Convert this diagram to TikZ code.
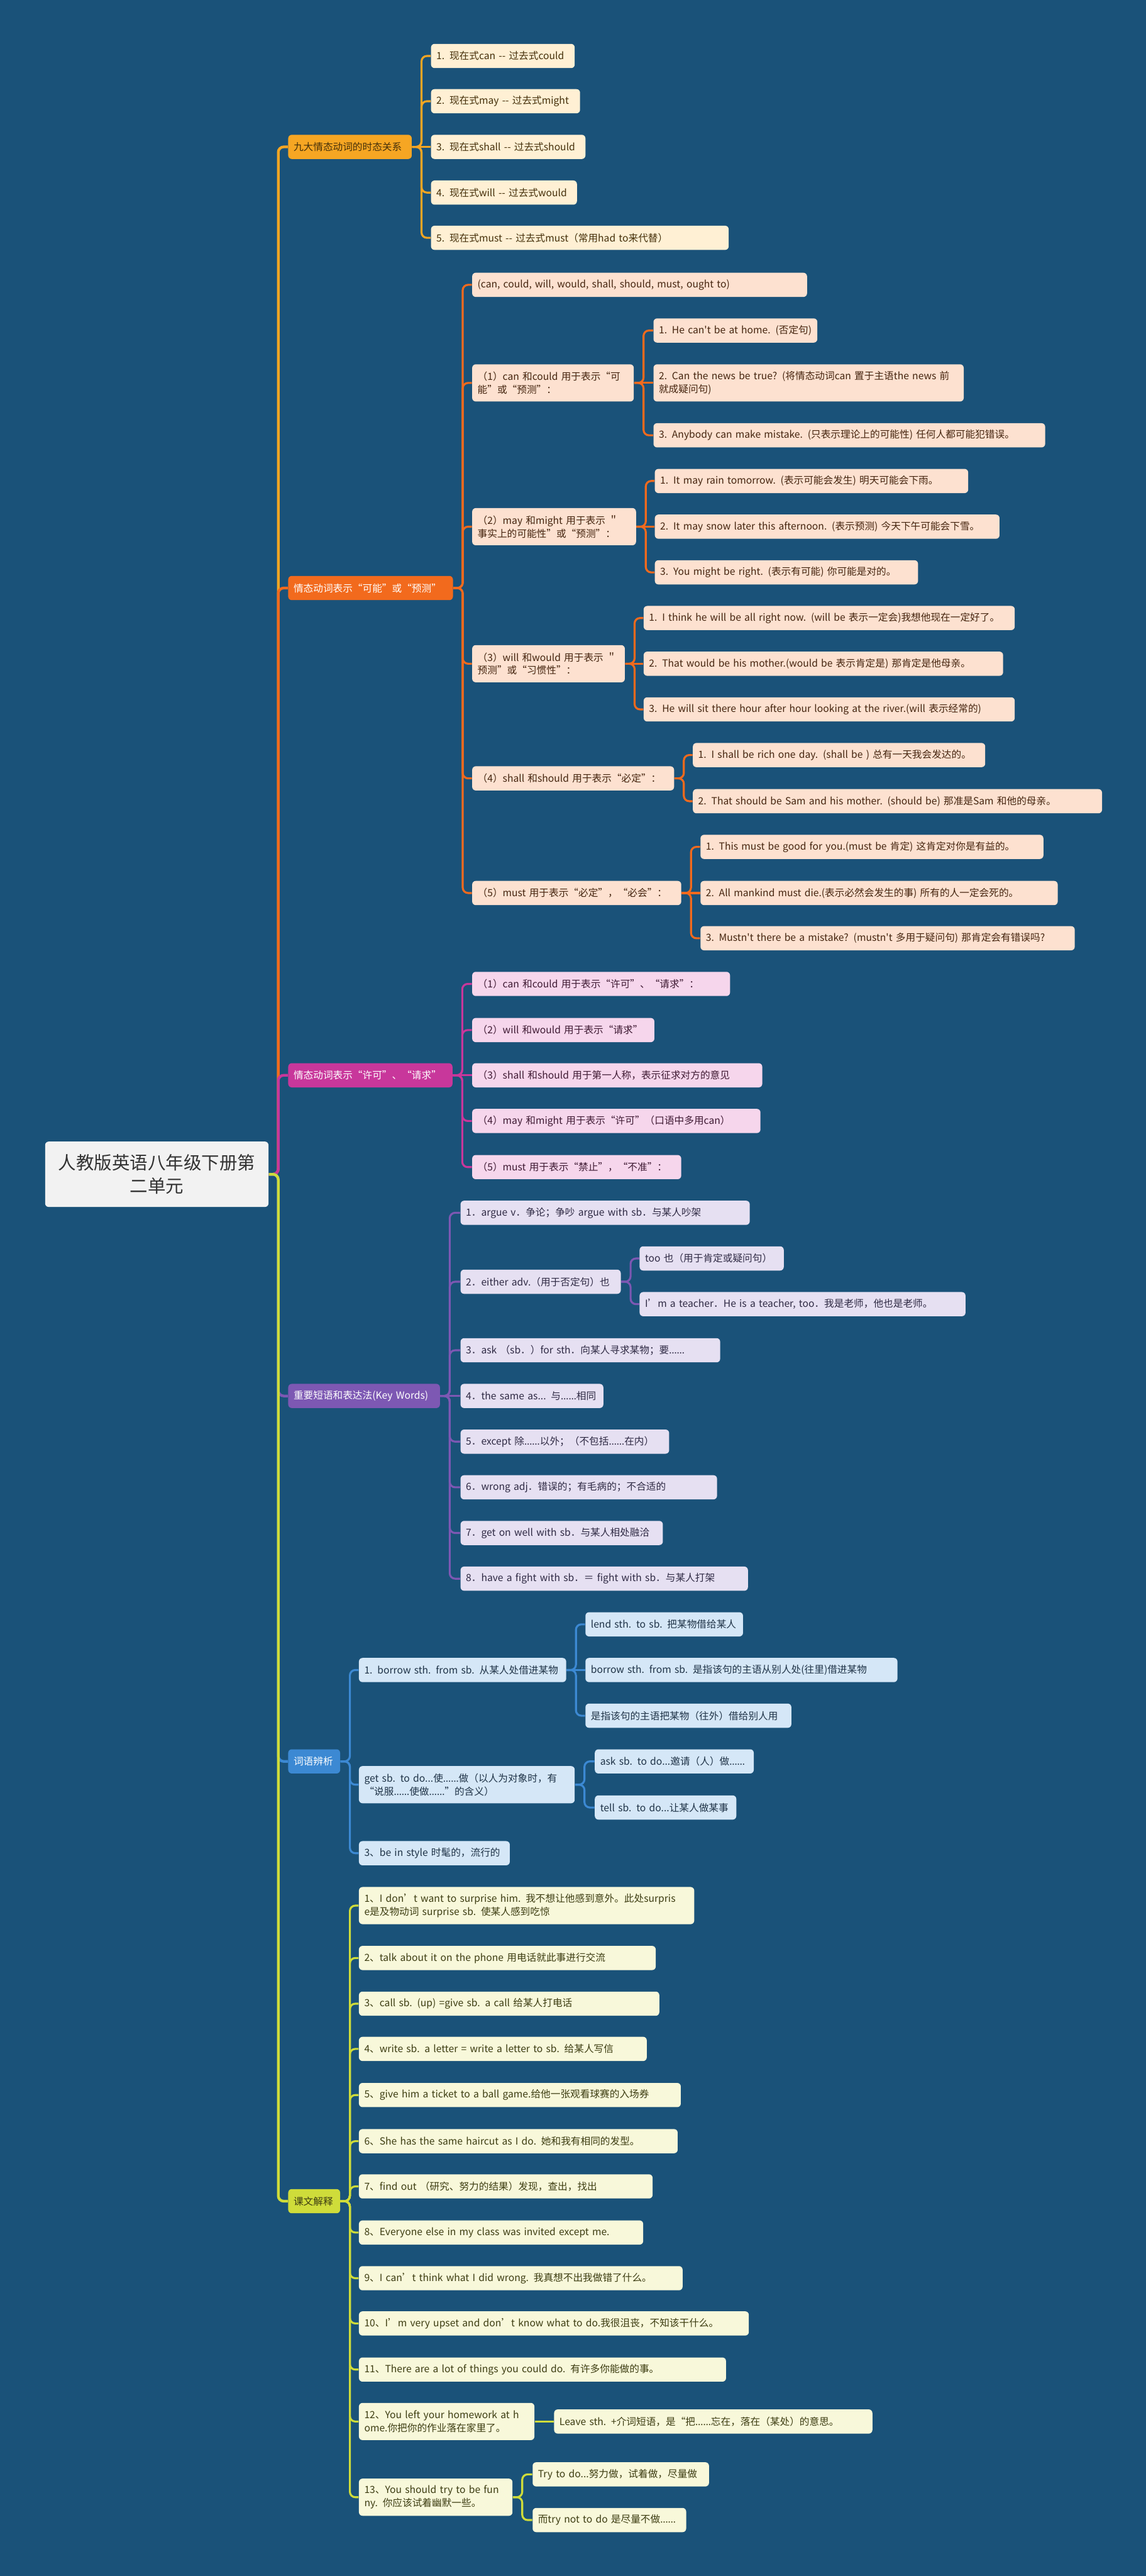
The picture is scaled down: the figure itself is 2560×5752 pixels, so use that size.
\documentclass[tikz,border=0pt]{standalone}
\usepackage{fontspec}
\setmainfont{Noto Sans CJK SC}[Ligatures=TeXOff]
\newfontfamily\latf{Noto Sans}[Ligatures=TeXOff]
\newcommand\el{{\latf ……}}
\definecolor{bgc}{HTML}{1A5279}
\definecolor{c1}{HTML}{F6A623}\definecolor{f1}{HTML}{FFF0D4}\definecolor{t1}{HTML}{45300A}
\definecolor{c2}{HTML}{F26A1D}\definecolor{f2}{HTML}{FDE1D0}\definecolor{t2}{HTML}{45250F}
\definecolor{c3}{HTML}{C8379B}\definecolor{f3}{HTML}{F6D6EC}\definecolor{t3}{HTML}{3F1A33}
\definecolor{c4}{HTML}{7D58B3}\definecolor{f4}{HTML}{E6E0F2}\definecolor{t4}{HTML}{2F2A44}
\definecolor{c5}{HTML}{3C89D3}\definecolor{f5}{HTML}{D5E7F7}\definecolor{t5}{HTML}{1F3347}
\definecolor{c6}{HTML}{CFDC3A}\definecolor{f6}{HTML}{F8F8DA}\definecolor{t6}{HTML}{3D3D12}
\definecolor{rootf}{HTML}{F2F2F2}\definecolor{roott}{HTML}{333333}
\pgfdeclarelayer{back}\pgfdeclarelayer{lines}\pgfsetlayers{back,lines,main}
\newcommand\nd[6]{\node[#1,bw=#5,anchor=west] (#2) at (#3,#4) {\mbox{#6}};}
\newcommand\ndt[6]{\node[#1,two,bw=#5,anchor=west] (#2) at (#3,#4) {#6};}
\newcommand\cn[3]{\draw[#1] (#2.east) -- ++(21,0) |- (#3.west);}
\newcommand\cs[3]{\draw[#1] (#2.east) -- (#3.west);}
\tikzset{
  bw/.code={\pgfmathsetlengthmacro\mytw{(#1-24)*0.25}\edef\mytmp{\noexpand\tikzset{text width=\mytw}}\mytmp},
  box/.style={rounded corners=2pt, inner xsep=3pt, inner ysep=0pt, minimum height=13.5pt, align=left, font=\fontsize{5.5pt}{7.25pt}\selectfont},
  two/.style={minimum height=20.75pt},
  c1s/.style={box, fill=f1, text=t1}, c2s/.style={box, fill=f2, text=t2},
  c3s/.style={box, fill=f3, text=t3}, c4s/.style={box, fill=f4, text=t4},
  c5s/.style={box, fill=f5, text=t5}, c6s/.style={box, fill=f6, text=t6},
  ln/.style={line width=1.1pt, rounded corners=3pt},
  l1/.style={ln, draw=c1}, l2/.style={ln, draw=c2}, l3/.style={ln, draw=c3},
  l4/.style={ln, draw=c4}, l5/.style={ln, draw=c5}, l6/.style={ln, draw=c6},
}
\begin{document}
\begin{tikzpicture}[x=0.25pt,y=-0.25pt]
\begin{pgfonlayer}{back}
\fill[bgc] (0,0) rectangle (2560,5752);
\end{pgfonlayer}
\useasboundingbox (0,0) rectangle (2560,5752);
% root
\node[box, fill=rootf, text=roott, bw=499, align=center, minimum height=36.5pt, font=\fontsize{10pt}{13pt}\selectfont, anchor=west] (root) at (100,2622) {人教版英语八年级下册第\\二单元};
% branches
\nd{box,fill=c1,text=t1}{b1}{643}{328}{276}{九大情态动词的时态关系}
\nd{box,fill=c2,text=white}{b2}{643}{1313}{368}{情态动词表示“可能”或“预测”}
\nd{box,fill=c3,text=white}{b3}{643}{2401}{367}{情态动词表示“许可”、“请求”}
\nd{box,fill=c4,text=white}{b4}{643}{3117}{339}{重要短语和表达法(Key Words)}
\nd{box,fill=c5,text=white}{b5}{643}{3933}{116}{词语辨析}
\nd{box,fill=c6,text=t6}{b6}{643}{4915}{116}{课文解释}
% branch 1
\nd{c1s}{a11}{962}{125}{321}{1. 现在式can -- 过去式could}
\nd{c1s}{a12}{962}{226}{333}{2. 现在式may -- 过去式might}
\nd{c1s}{a13}{962}{328}{345}{3. 现在式shall -- 过去式should}
\nd{c1s}{a14}{962}{430}{326}{4. 现在式will -- 过去式would}
\nd{c1s}{a15}{962}{531}{665}{5. 现在式must -- 过去式must（常用had to来代替）}
% branch 2
\nd{c2s}{b20}{1054}{636}{748}{(can, could, will, would, shall, should, must, ought to)}
\ndt{c2s}{b21}{1054}{855}{361}{（1）can 和could 用于表示“可\\能”或“预测”：}
\nd{c2s}{b211}{1459}{738}{366}{1. He can't be at home. (否定句)}
\ndt{c2s}{b212}{1459}{855}{693}{2. Can the news be true? (将情态动词can 置于主语the news 前\\就成疑问句)}
\nd{c2s}{b213}{1459}{972}{875}{3. Anybody can make mistake. (只表示理论上的可能性) 任何人都可能犯错误。}
\ndt{c2s}{b22}{1054}{1176}{366}{（2）may 和might 用于表示 ＂\\事实上的可能性”或“预测”：}
\nd{c2s}{b221}{1462}{1074}{700}{1. It may rain tomorrow. (表示可能会发生) 明天可能会下雨。}
\nd{c2s}{b222}{1462}{1176}{770}{2. It may snow later this afternoon. (表示预测) 今天下午可能会下雪。}
\nd{c2s}{b223}{1462}{1278}{588}{3. You might be right. (表示有可能) 你可能是对的。}
\ndt{c2s}{b23}{1054}{1482}{341}{（3）will 和would 用于表示 ＂\\预测”或“习惯性”：}
\nd{c2s}{b231}{1437}{1380}{829}{1. I think he will be all right now. (will be 表示一定会)我想他现在一定好了。}
\nd{c2s}{b232}{1437}{1482}{803}{2. That would be his mother.(would be 表示肯定是) 那肯定是他母亲。}
\nd{c2s}{b233}{1437}{1584}{829}{3. He will sit there hour after hour looking at the river.(will 表示经常的)}
\nd{c2s}{b24}{1054}{1738}{451}{（4）shall 和should 用于表示“必定”：}
\nd{c2s}{b241}{1547}{1686}{653}{1. I shall be rich one day. (shall be ) 总有一天我会发达的。}
\nd{c2s}{b242}{1547}{1789}{914}{2. That should be Sam and his mother. (should be) 那准是Sam 和他的母亲。}
\nd{c2s}{b25}{1054}{1994}{467}{（5）must 用于表示“必定”，“必会”：}
\nd{c2s}{b251}{1564}{1891}{766}{1. This must be good for you.(must be 肯定) 这肯定对你是有益的。}
\nd{c2s}{b252}{1564}{1994}{798}{2. All mankind must die.(表示必然会发生的事) 所有的人一定会死的。}
\nd{c2s}{b253}{1564}{2095}{836}{3. Mustn't there be a mistake? (mustn't 多用于疑问句) 那肯定会有错误吗?}
% branch 3
\nd{c3s}{c31}{1054}{2197}{576}{（1）can 和could 用于表示“许可”、“请求”：}
\nd{c3s}{c32}{1054}{2300}{407}{（2）will 和would 用于表示“请求”}
\nd{c3s}{c33}{1054}{2401}{648}{（3）shall 和should 用于第一人称，表示征求对方的意见}
\nd{c3s}{c34}{1054}{2503}{644}{（4）may 和might 用于表示“许可”（口语中多用can）}
\nd{c3s}{c35}{1054}{2606}{467}{（5）must 用于表示“禁止”，“不准”：}
% branch 4
\nd{c4s}{d1}{1028}{2708}{646}{1．argue v．争论；争吵 argue with sb．与某人吵架}
\nd{c4s}{d2}{1028}{2862}{358}{2．either adv.（用于否定句）也}
\nd{c4s}{d21}{1428}{2810}{322}{too 也（用于肯定或疑问句）}
\nd{c4s}{d22}{1428}{2912}{728}{I’m a teacher．He is a teacher, too．我是老师，他也是老师。}
\nd{c4s}{d3}{1028}{3015}{580}{3．ask （sb．）for sth．向某人寻求某物；要\el}
\nd{c4s}{d4}{1028}{3117}{319}{4．the same as... 与\el 相同}
\nd{c4s}{d5}{1028}{3219}{466}{5．except 除\el 以外；（不包括\el 在内）}
\nd{c4s}{d6}{1028}{3321}{573}{6．wrong adj．错误的；有毛病的；不合适的}
\nd{c4s}{d7}{1028}{3423}{452}{7．get on well with sb．与某人相处融洽}
\nd{c4s}{d8}{1028}{3525}{642}{8．have a fight with sb．＝ fight with sb．与某人打架}
% branch 5
\nd{c5s}{e1}{801}{3729}{463}{1. borrow sth. from sb. 从某人处借进某物}
\nd{c5s}{e11}{1307}{3627}{352}{lend sth. to sb. 把某物借给某人}
\nd{c5s}{e12}{1307}{3729}{697}{borrow sth. from sb. 是指该句的主语从别人处(往里)借进某物}
\nd{c5s}{e13}{1307}{3831}{460}{是指该句的主语把某物（往外）借给别人用}
\ndt{c5s}{e2}{801}{3985}{482}{get sb. to do...使\el 做（以人为对象时，有\\“说服\el 使做\el ”的含义）}
\nd{c5s}{e21}{1328}{3933}{355}{ask sb. to do...邀请（人）做\el}
\nd{c5s}{e22}{1328}{4036}{316}{tell sb. to do...让某人做某事}
\nd{c5s}{e3}{801}{4138}{337}{3、be in style 时髦的，流行的}
% branch 6
\ndt{c6s}{g1}{801}{4255}{749}{1、I don’t want to surprise him. 我不想让他感到意外。此处surpris\\e是及物动词 surprise sb. 使某人感到吃惊}
\nd{c6s}{g2}{801}{4372}{663}{2、talk about it on the phone 用电话就此事进行交流}
\nd{c6s}{g3}{801}{4474}{671}{3、call sb. (up) =give sb. a call 给某人打电话}
\nd{c6s}{g4}{801}{4575}{643}{4、write sb. a letter = write a letter to sb. 给某人写信}
\nd{c6s}{g5}{801}{4678}{719}{5、give him a ticket to a ball game.给他一张观看球赛的入场券}
\nd{c6s}{g6}{801}{4781}{712}{6、She has the same haircut as I do. 她和我有相同的发型。}
\nd{c6s}{g7}{801}{4882}{656}{7、find out （研究、努力的结果）发现，查出，找出}
\nd{c6s}{g8}{801}{4985}{635}{8、Everyone else in my class was invited except me.}
\nd{c6s}{g9}{801}{5087}{723}{9、I can’t think what I did wrong. 我真想不出我做错了什么。}
\nd{c6s}{g10}{801}{5188}{871}{10、I’m very upset and don’t know what to do.我很沮丧，不知该干什么。}
\nd{c6s}{g11}{801}{5291}{820}{11、There are a lot of things you could do. 有许多你能做的事。}
\ndt{c6s}{g12}{801}{5407}{392}{12、You left your homework at h\\ome.你把你的作业落在家里了。}
\nd{c6s}{g121}{1237}{5407}{711}{Leave sth. +介词短语，是“把\el 忘在，落在（某处）的意思。}
\ndt{c6s}{g13}{801}{5576}{343}{13、You should try to be fun\\ny. 你应该试着幽默一些。}
\nd{c6s}{g131}{1189}{5525}{394}{Try to do...努力做，试着做，尽量做}
\nd{c6s}{g132}{1189}{5627}{343}{而try not to do 是尽量不做\el}
% connectors
\begin{pgfonlayer}{lines}
\cn{l1,line width=1.5pt}{root}{b1}
\cn{l2,line width=1.5pt}{root}{b2}
\cn{l3,line width=1.5pt}{root}{b3}
\cn{l4,line width=1.5pt}{root}{b4}
\cn{l5,line width=1.5pt}{root}{b5}
\cn{l6,line width=1.5pt}{root}{b6}
\foreach \c in {a11,a12,a14,a15} {\cn{l1}{b1}{\c}}
\cs{l1}{b1}{a13}
\foreach \c in {b20,b21,b22,b23,b24,b25} {\cn{l2}{b2}{\c}}
\foreach \c in {b211,b213} {\cn{l2}{b21}{\c}}
\cs{l2}{b21}{b212}
\foreach \c in {b221,b223} {\cn{l2}{b22}{\c}}
\cs{l2}{b22}{b222}
\foreach \c in {b231,b233} {\cn{l2}{b23}{\c}}
\cs{l2}{b23}{b232}
\foreach \c in {b241,b242} {\cn{l2}{b24}{\c}}
\foreach \c in {b251,b253} {\cn{l2}{b25}{\c}}
\cs{l2}{b25}{b252}
\foreach \c in {c31,c32,c34,c35} {\cn{l3}{b3}{\c}}
\cs{l3}{b3}{c33}
\foreach \c in {d1,d2,d3,d5,d6,d7,d8} {\cn{l4}{b4}{\c}}
\cs{l4}{b4}{d4}
\foreach \c in {d21,d22} {\cn{l4}{d2}{\c}}
\foreach \c in {e1,e2,e3} {\cn{l5}{b5}{\c}}
\foreach \c in {e11,e13} {\cn{l5}{e1}{\c}}
\cs{l5}{e1}{e12}
\foreach \c in {e21,e22} {\cn{l5}{e2}{\c}}
\foreach \c in {g1,g2,g3,g4,g5,g6,g7,g8,g9,g10,g11,g12,g13} {\cn{l6}{b6}{\c}}
\cs{l6}{g12}{g121}
\foreach \c in {g131,g132} {\cn{l6}{g13}{\c}}
\end{pgfonlayer}
\end{tikzpicture}
\end{document}
